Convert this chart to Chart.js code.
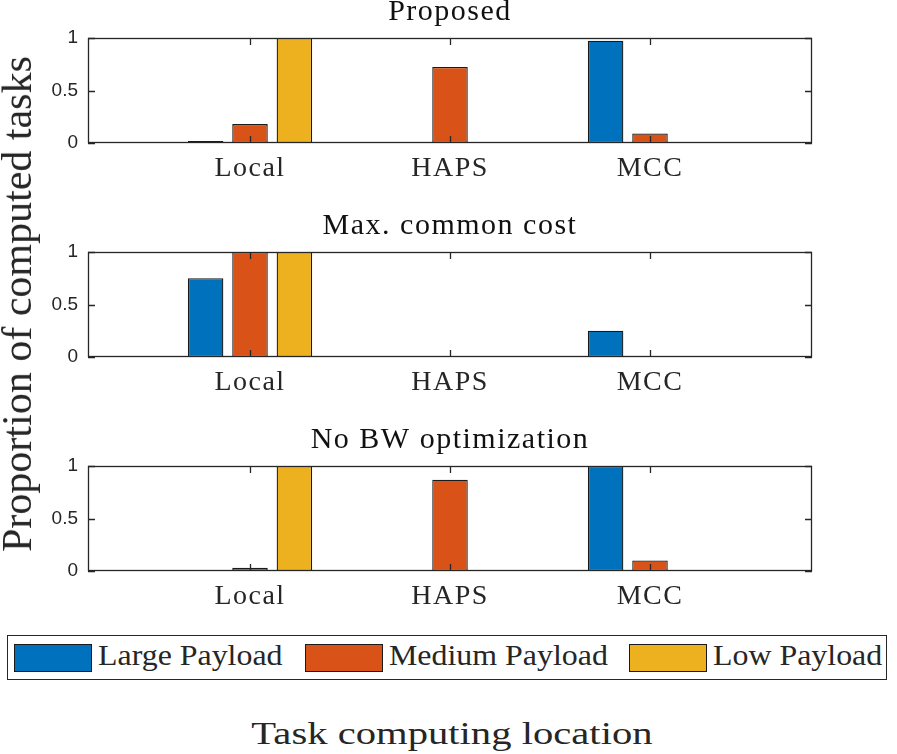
<!DOCTYPE html>
<html lang="en">
<head>
  <meta charset="UTF-8">
  <title>Proportion of computed tasks</title>
  <script src="https://cdn.jsdelivr.net/npm/chart.js"></script>
  <style>
    body { margin: 0; background: #fff; }
    #wrap { position: relative; width: 897px; height: 754px; overflow: hidden; background: #fff; }
    #wrap canvas { position: absolute; left: 0; }
    .txt { position: absolute; font-family: 'Liberation Serif', serif; color: #262626; white-space: nowrap; line-height: 1; }
    #legend { position: absolute; left: 7px; top: 635px; width: 880px; height: 45px; box-sizing: border-box; border: 1px solid #262626; background: #fff; }
    .swatch { position: absolute; width: 78px; height: 28px; box-sizing: border-box; border: 1.3px solid #1a1a1a; }
  </style>
</head>
<body>
<div id="wrap">
  <canvas id="c1" width="897" height="196" style="top:-3px"></canvas>
  <canvas id="c2" width="897" height="196" style="top:211px"></canvas>
  <canvas id="c3" width="897" height="196" style="top:425px"></canvas>

  <div class="txt" id="ylabel" style="font-size:42px; left:17px; top:303.5px; transform:translate(-50%,-50%) rotate(-90deg);">Proportion of computed tasks</div>
  <div class="txt" style="font-size:32px; left:3px; top:717px; width:897px; text-align:center;">
    <span style="display:inline-block; transform:scaleX(1.27);">Task computing location</span>
  </div>
  <div id="legend"></div>
</div>

<script>
  const categories = ['Local', 'HAPS', 'MCC'];
  const seriesNames = ['Large Payload', 'Medium Payload', 'Low Payload'];
  const yTicks = [0, 0.5, 1];
  const titles = ['Proposed', 'Max. common cost', 'No BW optimization'];

  // proportion of tasks per location: [Local, HAPS, MCC]
  const proposedLarge  = [0.02, 0, 0.975];
  const proposedMedium = [0.18, 0.725, 0.09];
  const proposedLow    = [1, 0, 0];

  const maxCostLarge  = [0.75, 0, 0.25];
  const maxCostMedium = [1, 0, 0];
  const maxCostLow    = [1, 0, 0];

  const noBwLarge  = [0, 0, 1];
  const noBwMedium = [0.03, 0.87, 0.1];
  const noBwLow    = [1, 0, 0];

  const seriesColors = ['#0072BD', '#D95319', '#EDB120'];
  const legendLeft = [14, 305, 629];

  // draw tick labels with their own letter spacing (the LaTeX text is wide)
  function wrapLabels(scale, spacing) {
    const orig = scale.drawLabels;
    scale.drawLabels = function (area) {
      const prev = this.ctx.letterSpacing;
      this.ctx.letterSpacing = spacing;
      orig.call(this, area);
      this.ctx.letterSpacing = prev;
    };
  }

  const spacingPlugin = {
    id: 'spacing',
    beforeDraw(chart) {
      chart.ctx.letterSpacing = '1.5px';
      if (!chart.scales.x._spaced) {
        wrapLabels(chart.scales.x, '1.5px');
        wrapLabels(chart.scales.y, '0px');
        chart.scales.x._spaced = true;
      }
    },
    afterDraw(chart) {
      chart.ctx.letterSpacing = '0px';
    }
  };

  // MATLAB style box with inward tick marks
  const boxPlugin = {
    id: 'box',
    afterDraw(chart) {
      const { ctx, chartArea: a, scales: { x, y } } = chart;
      const len = 7;
      ctx.save();
      ctx.strokeStyle = '#262626';
      ctx.lineWidth = 1.3;
      ctx.beginPath();
      y.ticks.forEach(t => {
        const py = Math.round(y.getPixelForValue(t.value)) + 0.5;
        ctx.moveTo(a.left, py); ctx.lineTo(a.left + len, py);
        ctx.moveTo(a.right, py); ctx.lineTo(a.right - len, py);
      });
      x.ticks.forEach(t => {
        const px = Math.round(x.getPixelForValue(t.value)) + 0.5;
        ctx.moveTo(px, a.bottom); ctx.lineTo(px, a.bottom - len);
        ctx.moveTo(px, a.top); ctx.lineTo(px, a.top + len);
      });
      ctx.stroke();
      ctx.strokeRect(a.left + 0.5, a.top + 0.5, a.right - a.left - 1, a.bottom - a.top - 1);
      ctx.restore();
    }
  };

  function makeChart(id, title, large, medium, low) {
    const values = [large, medium, low];
    return new Chart(document.getElementById(id), {
      type: 'bar',
      data: {
        datasets: seriesNames.map((name, s) => ({
          label: name,
          data: categories.map((c, i) => ({ x: i + 1, y: values[s][i] })),
          backgroundColor: seriesColors[s],
          borderColor: '#1a1a1a',
          borderWidth: 1.3,
          borderSkipped: false,
          categoryPercentage: 0.666,
          barPercentage: 0.8
        }))
      },
      options: {
        responsive: false,
        animation: false,
        layout: { padding: { left: 0, right: 85, top: 0, bottom: 0 } },
        plugins: {
          legend: { display: false },
          tooltip: { enabled: false },
          title: {
            display: true,
            text: title,
            fullSize: false,
            color: '#111',
            font: { family: 'Liberation Serif', size: 30, weight: 'normal', lineHeight: 1 },
            padding: { top: 0, bottom: 11 }
          }
        },
        scales: {
          x: {
            type: 'linear',
            min: 0.19,
            max: 3.81,
            offset: false,
            grid: { display: false, drawTicks: false },
            border: { display: false },
            afterBuildTicks: s => { s.ticks = categories.map((c, i) => ({ value: i + 1 })); },
            afterFit: s => { s.height = 50; },
            ticks: {
              callback: v => categories[v - 1],
              padding: 9,
              color: '#262626',
              maxRotation: 0,
              autoSkip: false,
              font: { family: 'Liberation Serif', size: 28 }
            }
          },
          y: {
            min: 0,
            max: 1,
            grid: { display: false, drawTicks: false },
            border: { display: false },
            afterBuildTicks: s => { s.ticks = yTicks.map(v => ({ value: v })); },
            afterFit: s => { s.width = 88; },
            ticks: {
              callback: v => String(v),
              padding: 10,
              color: '#262626',
              font: { family: 'Liberation Sans', size: 19 }
            }
          }
        }
      },
      plugins: [spacingPlugin, boxPlugin]
    });
  }

  makeChart('c1', titles[0], proposedLarge, proposedMedium, proposedLow);
  makeChart('c2', titles[1], maxCostLarge, maxCostMedium, maxCostLow);
  makeChart('c3', titles[2], noBwLarge, noBwMedium, noBwLow);

  // legend
  const wrap = document.getElementById('wrap');
  seriesNames.forEach((name, s) => {
    const sw = document.createElement('div');
    sw.className = 'swatch';
    sw.style.left = legendLeft[s] + 'px';
    sw.style.top = '644px';
    sw.style.background = seriesColors[s];
    wrap.appendChild(sw);

    const t = document.createElement('div');
    t.className = 'txt';
    t.style.fontSize = '29px';
    t.style.left = (legendLeft[s] + 84) + 'px';
    t.style.top = '641px';
    t.style.transformOrigin = 'left center';
    t.style.transform = 'scaleX(1.1)';
    t.textContent = name;
    wrap.appendChild(t);
  });
</script>
</body>
</html>
